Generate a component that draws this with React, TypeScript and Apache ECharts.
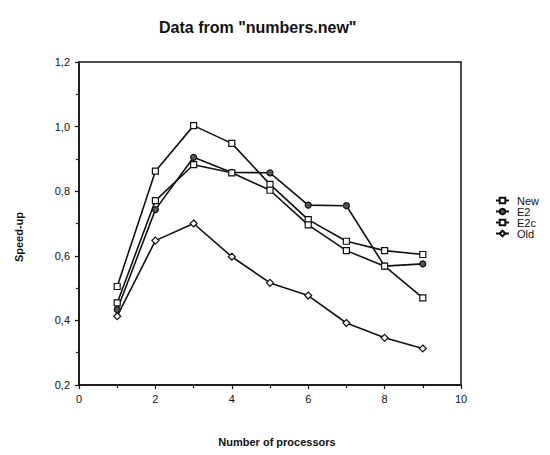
import React, { useEffect, useRef } from "react";
import * as echarts from "echarts";

const processors = [1, 2, 3, 4, 5, 6, 7, 8, 9];
const newValues = [0.505, 0.862, 1.003, 0.948, 0.821, 0.712, 0.645, 0.616, 0.604];
const e2Values = [0.433, 0.743, 0.905, 0.858, 0.857, 0.757, 0.755, 0.568, 0.575];
const e2cValues = [0.454, 0.771, 0.882, 0.857, 0.803, 0.696, 0.616, 0.568, 0.47];
const oldValues = [0.413, 0.647, 0.7, 0.597, 0.516, 0.477, 0.392, 0.346, 0.313];
const seriesNames = ["New", "E2", "E2c", "Old"];

const FONT = "Liberation Sans, Arial, Helvetica, sans-serif";

export default function App() {
  const ref = useRef<HTMLDivElement>(null);
  useEffect(() => {
    if (!ref.current) return;
    document.body.style.margin = "0";
    const chart = echarts.init(ref.current, undefined, { renderer: "svg" });
    const mk = (vals: number[]) => processors.map((p, i) => [p, vals[i]]);
    const lineStyle = { color: "#111", width: 1.6 };
    const openSym = { color: "#fff", borderColor: "#111", borderWidth: 1.2 };
    chart.setOption({
      animation: false,
      backgroundColor: "#fff",
      textStyle: { fontFamily: FONT },
      title: {
        text: 'Data from "numbers.new"',
        left: 154,
        top: 14,
        textStyle: { fontSize: 16, fontWeight: "bold", color: "#111", fontFamily: FONT },
      },
      grid: {
        left: 79,
        right: 89,
        top: 62,
        bottom: 70,
        show: true,
        borderColor: "#111",
        borderWidth: 1.5,
        backgroundColor: "transparent",
      },
      legend: {
        orient: "vertical",
        left: 490,
        top: 190,
        itemWidth: 13,
        itemHeight: 7,
        itemGap: 0,
        data: seriesNames,
        textStyle: { fontSize: 11, lineHeight: 10, color: "#111", fontFamily: FONT, padding: [0, 0, 0, 3] },
      },
      xAxis: {
        type: "value",
        min: 0,
        max: 10,
        interval: 2,
        axisLine: { show: true, lineStyle: { color: "#111", width: 1.5 } },
        axisTick: { show: true, length: 4, lineStyle: { color: "#111", width: 1.2 } },
        minorTick: { show: true, splitNumber: 2, length: 3, lineStyle: { color: "#111", width: 1.2 } },
        splitLine: { show: false },
        axisLabel: { fontSize: 11, color: "#111", margin: 8, fontFamily: FONT },
      },
      yAxis: {
        type: "value",
        min: 0.2,
        max: 1.2,
        interval: 0.2,
        axisLine: { show: true, lineStyle: { color: "#111", width: 1.5 } },
        axisTick: { show: true, length: 4, lineStyle: { color: "#111", width: 1.2 } },
        minorTick: { show: true, splitNumber: 2, length: 3, lineStyle: { color: "#111", width: 1.2 } },
        splitLine: { show: false },
        axisLabel: {
          fontSize: 11,
          color: "#111",
          margin: 9,
          fontFamily: FONT,
          formatter: (v: number) => v.toFixed(1).replace(".", ","),
        },
      },
      graphic: [
        {
          type: "text",
          x: 19,
          y: 237,
          rotation: Math.PI / 2,
          style: {
            text: "Speed-up",
            fontSize: 11,
            fontWeight: "bold",
            fill: "#111",
            fontFamily: FONT,
            textAlign: "center",
            textVerticalAlign: "middle",
          },
        },
        {
          type: "text",
          x: 277,
          y: 442,
          style: {
            text: "Number of processors",
            fontSize: 11,
            fontWeight: "bold",
            fill: "#111",
            fontFamily: FONT,
            textAlign: "center",
            textVerticalAlign: "middle",
          },
        },
      ],
      series: [
        {
          name: "New",
          type: "line",
          data: mk(newValues),
          symbol: "rect",
          symbolSize: 6,
          lineStyle,
          itemStyle: openSym,
        },
        {
          name: "E2",
          type: "line",
          data: mk(e2Values),
          symbol: "circle",
          symbolSize: 6,
          lineStyle,
          itemStyle: { color: "#555", borderColor: "#111", borderWidth: 1.2 },
        },
        {
          name: "E2c",
          type: "line",
          data: mk(e2cValues),
          symbol: "rect",
          symbolSize: 6,
          lineStyle,
          itemStyle: openSym,
        },
        {
          name: "Old",
          type: "line",
          data: mk(oldValues),
          symbol: "diamond",
          symbolSize: 7,
          lineStyle,
          itemStyle: openSym,
        },
      ],
    });
    return () => chart.dispose();
  }, []);
  return <div ref={ref} style={{ width: 550, height: 455 }} />;
}
